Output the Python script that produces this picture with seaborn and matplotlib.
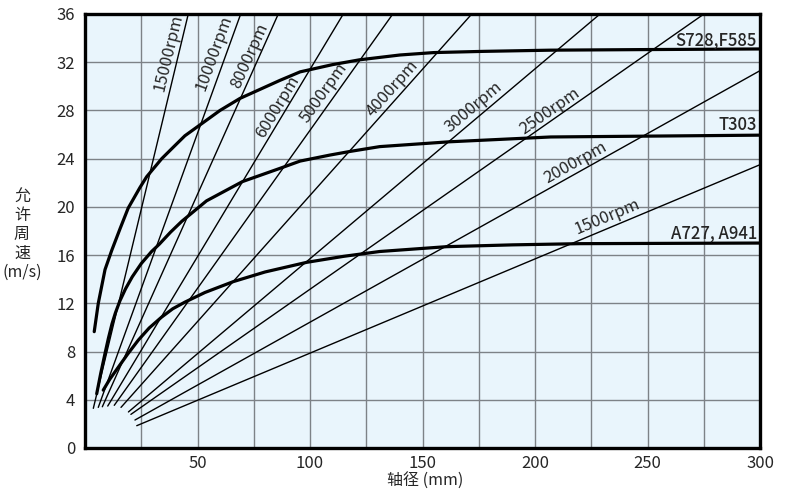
import numpy as np
import pandas as pd
import seaborn as sns
import matplotlib.pyplot as plt

# rpm lines: start and end points (shaft dia mm, speed m/s)
rpm_names = ['15000rpm', '10000rpm', '8000rpm', '6000rpm', '5000rpm',
             '4000rpm', '3000rpm', '2500rpm', '2000rpm', '1500rpm']
rpm_x0 = [3.7, 5.9, 7.7, 10.1, 13.0, 16.0, 19.3, 20.4, 22.2, 23.0]
rpm_y0 = [3.29, 3.37, 3.42, 3.48, 3.54, 3.37, 2.99, 2.79, 2.32, 1.85]
rpm_x1 = [45.9, 69.2, 85.9, 114.8, 136.8, 171.9, 228.9, 275.1, 300, 300]
rpm_y1 = [36, 36, 36, 36, 36, 36, 36, 36, 31.3, 23.5]
# label centres
rpm_lx = [37.0, 57.4, 73.3, 85.6, 106.2, 136.7, 172.9, 206.7, 218.2, 232.2]
rpm_ly = [32.8, 32.8, 32.5, 28.3, 29.5, 29.8, 28.3, 27.9, 23.7, 19.2]

# material curves
s728_x = [4.1, 5.9, 8.9, 11.9, 15.6, 19.2, 24.4, 27.4, 34.1, 39.5, 44.4, 51.1, 60,
          68.9, 86.7, 95.6, 110, 122, 140, 155, 177, 207, 250, 300]
s728_y = [9.65, 12.0, 14.8, 16.4, 18.2, 19.9, 21.6, 22.5, 24.0, 25.0, 25.9, 26.8, 28.0,
          29.0, 30.5, 31.2, 31.8, 32.2, 32.6, 32.8, 32.9, 33.0, 33.05, 33.1]
t303_x = [5.2, 7, 8.9, 10.4, 12, 13.5, 15.5, 18, 21, 25, 29.6, 33, 38, 43, 54, 70,
          86.7, 95.6, 108.9, 117.8, 131, 162, 207, 300]
t303_y = [4.5, 6.2, 7.85, 9.1, 10.3, 11.2, 12.2, 13.2, 14.2, 15.3, 16.3, 16.9, 17.9,
          18.8, 20.5, 22.1, 23.2, 23.8, 24.3, 24.6, 25.0, 25.4, 25.8, 25.95]
a727_x = [8.1, 11, 14.8, 19, 23.7, 28.5, 34, 39, 44.4, 53.3, 65.9, 80, 98.5, 115,
          131, 160.7, 190, 220, 300]
a727_y = [4.8, 5.7, 6.7, 7.8, 8.95, 9.95, 10.85, 11.55, 12.1, 12.9, 13.8, 14.6, 15.4,
          15.9, 16.3, 16.7, 16.85, 16.95, 17.0]
curve_names = ['S728,F585', 'T303', 'A727, A941']
curve_label_y = [33.4, 26.4, 17.4]

sns.set_style('white')
plt.rcParams['font.family'] = ['Noto Sans CJK JP', 'DejaVu Sans']

fig = plt.figure(figsize=(7.9, 4.95), dpi=100)
ax = fig.add_axes([85 / 790, 1 - 448 / 495, 675 / 790, 434 / 495])
ax.set_facecolor('#e9f5fc')
ax.set_xlim(0, 300)
ax.set_ylim(0, 36)

ax.set_xticks(np.arange(50, 301, 50))
ax.set_xticks(np.arange(0, 301, 25), minor=True)
ax.set_yticks(np.arange(0, 37, 4))
ax.grid(True, which='both', color='#7d8287', lw=1.0)
ax.set_axisbelow(True)
ax.tick_params(which='both', length=0, labelsize=12)
ax.tick_params(axis='y', pad=7)
ax.tick_params(axis='x', pad=5)
for s in ax.spines.values():
    s.set_color('black')
    s.set_linewidth(2.4)

rpm_df = pd.DataFrame({
    'rpm': rpm_names * 2,
    'x': rpm_x0 + rpm_x1,
    'y': rpm_y0 + rpm_y1,
})
sns.lineplot(data=rpm_df, x='x', y='y', units='rpm', estimator=None,
             color='black', lw=1.0, ax=ax)

for cx, cy in [(s728_x, s728_y), (t303_x, t303_y), (a727_x, a727_y)]:
    sns.lineplot(x=cx, y=cy, color='black', lw=2.3, ax=ax, sort=False)

ax.set_xlabel('')
ax.set_ylabel('')

# rpm labels along the lines
for name, x0, y0, x1, y1, lx, ly in zip(rpm_names, rpm_x0, rpm_y0, rpm_x1, rpm_y1, rpm_lx, rpm_ly):
    p0 = ax.transData.transform((x0, y0))
    p1 = ax.transData.transform((x1, y1))
    ang = np.degrees(np.arctan2(p1[1] - p0[1], p1[0] - p0[0]))
    ax.text(lx, ly, name, rotation=ang, rotation_mode='anchor',
            ha='center', va='center', fontsize=12)

for name, ly in zip(curve_names, curve_label_y):
    ax.text(298.7, ly, name, ha='right', va='baseline', fontsize=12,
            fontweight='medium')

fig.text(22 / 790, 1 - 234 / 495, '允\n许\n周\n速\n(m/s)', ha='center',
         va='center', fontsize=11.5, linespacing=1.15)
fig.text(425 / 790, 1 - 481 / 495, '轴径 (mm)', ha='center', va='center',
         fontsize=11.5)

fig.savefig('out.png', dpi=100)
